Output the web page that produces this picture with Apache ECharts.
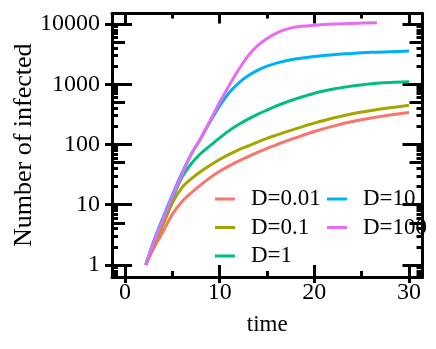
<!DOCTYPE html>
<html>
<head>
<meta charset="utf-8">
<script src="https://cdn.jsdelivr.net/npm/echarts@6/dist/echarts.min.js"></script>
<style>
  html, body { margin: 0; padding: 0; background: #fff; }
  #chart { width: 436px; height: 349px; }
</style>
</head>
<body>
<div id="chart"></div>
<script>
// time points (D=100 stops earlier)
const time = [2.2, 3, 4, 5, 6, 7, 8, 9, 10, 11, 12, 13, 14, 15, 16, 17, 18, 20, 22, 24, 26, 28, 30];
const time100 = [2.2, 3, 4, 5, 6, 7, 8, 9, 10, 11, 12, 13, 14, 15, 16, 17, 18, 20, 22, 24, 26.6];

// number of infected
const d001 = [1, 1.86, 3.55, 6.92, 11.2, 15.8, 21.4, 28.2, 35.9, 44.2, 53.1, 63.1, 74.1, 86.1, 98.9, 113.5, 128.8, 164, 202, 240, 275, 309, 339];
const d01 = [1, 2.09, 4.57, 10.7, 19.1, 26.9, 35.5, 45.2, 56.2, 68.4, 81.3, 94.4, 109.6, 125.9, 143, 162, 182, 226, 275, 324, 367, 407, 447];
const d1 = [1, 2.29, 5.5, 12.6, 28.2, 47.9, 70.8, 95.5, 129, 170, 214, 263, 316, 372, 437, 501, 569, 708, 832, 933, 1023, 1072, 1096];
const d10 = [1, 2.4, 6.03, 14.5, 33.1, 69.2, 126, 240, 437, 724, 1047, 1380, 1698, 1995, 2239, 2455, 2630, 2884, 3090, 3236, 3388, 3467, 3548];
const d100 = [1, 2.29, 5.62, 13.5, 30.9, 69.2, 126, 251, 501, 955, 1738, 2951, 4365, 5754, 7079, 8128, 8913, 9550, 10000, 10233, 10471];

const names = ["D=0.01", "D=0.1", "D=1", "D=10", "D=100"];
const colors = ["#F8766D", "#A3A500", "#00BF7D", "#00B0F6", "#E76BF3"];

// ticks
const xMajor = [0, 10, 20, 30];
const xMinor = [5, 15, 25];
const yMajor = [1, 10, 100, 1000, 10000];
const yFive = [5, 50, 500, 5000];
const yMinor = [0.7, 0.8, 0.9, 2, 3, 4, 6, 7, 8, 9, 20, 30, 40, 60, 70, 80, 90,
  200, 300, 400, 600, 700, 800, 900, 2000, 3000, 4000, 6000, 7000, 8000, 9000];

const font = "Liberation Serif";
const xMin = -1.37, xMax = 31.42;
const yMin = 0.632, yMax = 14930;

function pair(ts, vs) {
  return ts.map((t, i) => [t, vs[i]]);
}

function xAx(pos, ticks, len, inside, showLine) {
  return {
    type: "value", position: pos, min: xMin, max: xMax,
    axisLine: { show: showLine, onZero: false, lineStyle: { color: "#000", width: 3 } },
    axisTick: { show: true, inside: inside, length: len, customValues: ticks,
      lineStyle: { color: "#000", width: 3 } },
    axisLabel: { show: false },
    splitLine: { show: false }
  };
}

function yAx(pos, ticks, len, inside, showLine) {
  return {
    type: "log", logBase: 10, position: pos, min: yMin, max: yMax,
    axisLine: { show: showLine, onZero: false, lineStyle: { color: "#000", width: 3 } },
    axisTick: { show: true, inside: inside, length: len, customValues: ticks,
      lineStyle: { color: "#000", width: 3 } },
    axisLabel: { show: false },
    splitLine: { show: false },
    minorTick: { show: false }
  };
}

const xAxes = [
  xAx("bottom", xMajor, 12, true, true),
  xAx("bottom", xMajor, 6, false, false),
  xAx("bottom", xMinor, 6, true, false),
  xAx("top", xMajor, 10, true, true),
  xAx("top", xMinor, 5, true, false)
];
xAxes[0].axisLabel = { show: true, customValues: xMajor, margin: 4,
  fontFamily: font, fontSize: 24, color: "#000", formatter: v => String(v) };
xAxes[0].name = "time";
xAxes[0].nameLocation = "middle";
xAxes[0].nameGap = 36;
xAxes[0].nameMoveOverlap = false;
xAxes[0].nameTextStyle = { fontFamily: font, fontSize: 23, color: "#000" };

const yAxes = [
  yAx("left", yMajor, 20, true, true),
  yAx("left", yMajor, 7, false, false),
  yAx("left", yFive, 13, true, false),
  yAx("left", yMinor, 6, true, false),
  yAx("right", yMajor, 20, true, true),
  yAx("right", yFive, 13, true, false),
  yAx("right", yMinor, 6, true, false)
];
yAxes[0].axisLabel = { show: true, customValues: yMajor, margin: 12,
  fontFamily: font, fontSize: 24, color: "#000", formatter: v => String(v) };
yAxes[0].name = "Number of infected";
yAxes[0].nameLocation = "middle";
yAxes[0].nameGap = 75;
yAxes[0].nameMoveOverlap = false;
yAxes[0].nameTextStyle = { fontFamily: font, fontSize: 26, color: "#000" };

const allData = [pair(time, d001), pair(time, d01), pair(time, d1), pair(time, d10), pair(time100, d100)];
const series = names.map((n, i) => ({
  name: n,
  type: "line",
  xAxisIndex: 0,
  yAxisIndex: 0,
  data: allData[i],
  showSymbol: false,
  symbol: "none",
  smooth: 0.3,
  lineStyle: { width: 3, color: colors[i] },
  itemStyle: { color: colors[i] }
}));

const legendCommon = {
  orient: "vertical",
  top: 187.5,
  padding: 0,
  itemGap: 5.5,
  itemWidth: 20,
  itemHeight: 3,
  icon: "rect",
  selectedMode: false,
  textStyle: { fontFamily: font, fontSize: 23, lineHeight: 23, color: "#000", padding: [0, 0, 0, 11] }
};

const chart = echarts.init(document.getElementById("chart"));
chart.setOption({
  animation: false,
  backgroundColor: "#fff",
  color: colors,
  grid: { left: 112, right: 13.5, top: 13.5, bottom: 72, containLabel: false },
  legend: [
    Object.assign({}, legendCommon, { left: 215, data: names.slice(0, 3) }),
    Object.assign({}, legendCommon, { left: 327, data: names.slice(3) })
  ],
  xAxis: xAxes,
  yAxis: yAxes,
  series: series
});
</script>
</body>
</html>
